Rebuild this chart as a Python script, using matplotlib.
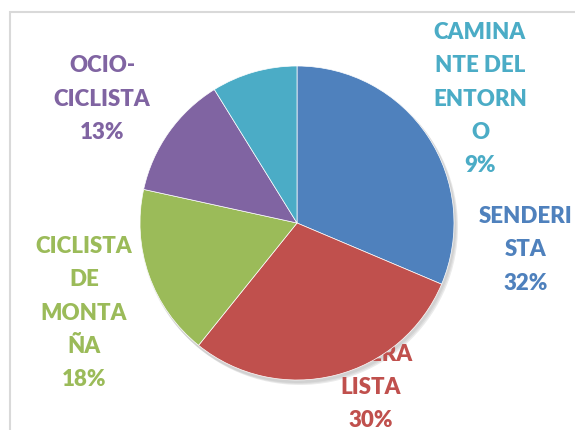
import matplotlib
matplotlib.use("Agg")
import matplotlib.pyplot as plt
from matplotlib.patches import Rectangle, Circle

# datos del grafico
categorias = ["SENDERISTA", "CARRETERA LISTA", "CICLISTA DE MONTAÑA",
              "OCIO-CICLISTA", "CAMINANTE DEL ENTORNO"]
porcentajes = [32, 30, 18, 13, 9]
# etiquetas tal como las corta Excel (la roja queda medio tapada por la tarta)
etiquetas = ["SENDERI\nSTA", "CAR\nRETERA\nLISTA", "CICLISTA\nDE\nMONTA\nÑA",
             "OCIO-\nCICLISTA", "CAMINA\nNTE DEL\nENTORN\nO"]
colores = ["#4F81BD", "#C0504D", "#9BBB59", "#8064A2", "#4BACC6"]

W, H = 575, 430
fig = plt.figure(figsize=(W / 100, H / 100), dpi=100)
ax = fig.add_axes([0, 0, 1, 1])

# marco gris del grafico
ax.add_patch(Rectangle((10, -20), 600, H - 12 + 20, fill=False,
                       edgecolor="#D9D9D9", lw=1.5, zorder=0))

cx, cy, r = 297, H - 223, 157

# sombra suave
for i, a in enumerate([0.05, 0.06, 0.08]):
    ax.add_patch(Circle((cx + 1 + i, cy - 2 - i), r + 1, color="k",
                        alpha=a, lw=0, zorder=1))

ax.pie(porcentajes, colors=colores, startangle=90, counterclock=False,
       center=(cx, cy), radius=r, frame=True,
       wedgeprops=dict(edgecolor="white", linewidth=0.5, zorder=2))
ax.set_xlim(0, W)
ax.set_ylim(0, H)
ax.set_aspect("equal")
ax.axis("off")

# posiciones de las etiquetas (pixeles, centro del bloque)
pos = [(526, 250), (371, 371), (84, 313), (102, 99), (480, 99)]
for lab, p, c, (x, y) in zip(etiquetas, porcentajes, colores, pos):
    z = 1.5 if lab.startswith("CAR\n") else 3
    ax.text(x, H - y, f"{lab}\n{p}%", color=c, ha="center", va="center",
            fontsize=16, fontweight="heavy", family=["Lato", "DejaVu Sans"],
            linespacing=1.72, zorder=z)

fig.savefig("out.png", dpi=100)
